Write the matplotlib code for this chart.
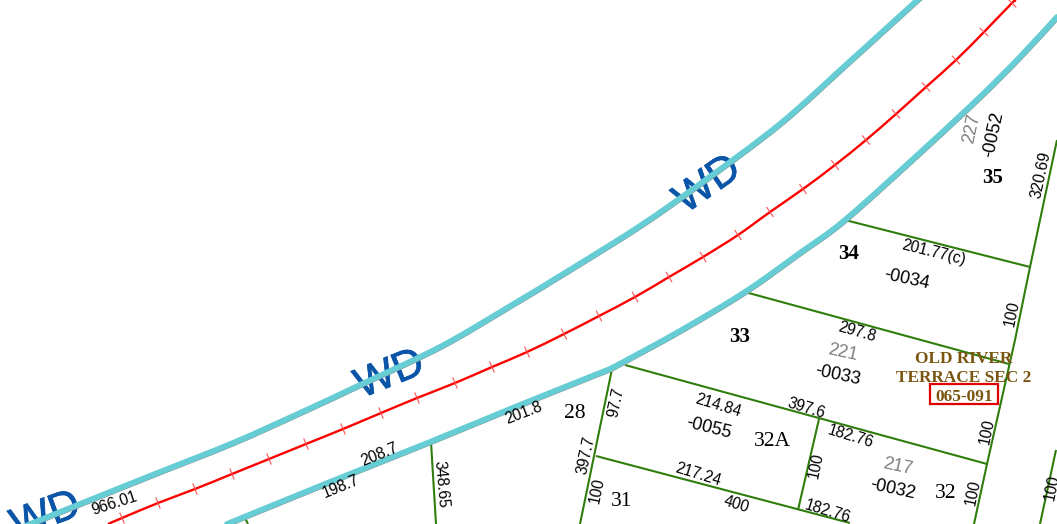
import numpy as np
import matplotlib
matplotlib.use("Agg")
import matplotlib.pyplot as plt
import matplotlib.patheffects as pe
from matplotlib.patches import Rectangle, PathPatch
from matplotlib.path import Path
from matplotlib.transforms import offset_copy

# canal polylines (map pixel coordinates)
canal_upper = [(18,529),(90,500),(160,472),(233,443),(300,413),(360,385),(440,347),(507,308),(573,268),(640,226),(700,184),(780,124),(847,64),(890,25),(923,-5)]
canal_lower_a = [(227,524),(330,482),(430,442),(520,405),(610,369)]
canal_lower_b = [(610,369),(627,360),(680,331),(745,292),(800,253),(845,220),(923,150),(980,97),(1020,57),(1057,17)]

# red line tick locations
red_ticks = [(122,518),(158,503),(195,489),(232,474),(269,459),(306,444),(343,429),(381,413),(417,398),(455,383),(492,367),(527,352),(564,334),(599,316),(635,297),(669,277),(703,257),(738,235),(770,212),(803,189),(835,165),(866,140),(896,114),(926,87),(956,60),(984,32),(1012,3)]
red_start = (108,524)
red_end = (1016,0)

# parcel boundaries
parcels = [
    [(431,442),(436,524)],
    [(245,518),(248,524)],
    [(612,369),(580,524)],
    [(625,365),(987,464)],
    [(596,456),(850,523)],
    [(819,419),(798,510)],
    [(1057,140),(1030,267),(1015,340),(987,464),(974,524)],
    [(845,220),(1030,267)],
    [(745,292),(1009,364)],
    [(1056,450),(1040,524)],
]

# dimension labels: text, x, y, rotation
dims = [
    ("966.01",114,503,18),("208.7",379,455,22),("198.7",341,487,22),("348.65",441,484,-85),
    ("201.8",524,413,21),("97.7",616,402,78),("397.7",586,455,78),("100",597,490,78),
    ("214.84",718,406,-17),("397.6",806,408,-17),("217.24",698,475,-17),("400",736,504,-17),
    ("182.76",851,437,-17),("182.76",828,512,-17),("100",816,465,78),("100",987,431,78),
    ("100",973,492,78),("100",1012,313,78),("320.69",1041,175,78),("297.8",857,332,-16),
    ("201.77(c)",934,253,-14),("100",1052,487,78),
]
parcel_ids = [("-0034",907,279,-12),("-0055",709,428,-14),("-0033",838,375,-12),("-0032",893,489,-12),("-0052",994,135,78)]
gray_ids = [("221",843,353,-12),("217",898,467,-12),("227",972,128,78)]
lots_bold = [("35",993,178),("34",849,254),("33",740,337)]
lots = [("28",575,413),("31",622,501),("32A",772,441),("32",946,493)]
wd_labels = [(46,516,20),(390,375,22),(708,185,35)]
sub_labels = [("OLD RIVER",964,359),("TERRACE SEC 2",964,378),("065-091",964,397)]
red_box = (930,384,68,20)

CANAL = "#66CDD5"; GREEN = "#2F7D0C"; RED = "#FF0000"; BLUE = "#0B55A8"; BROWN = "#7A5510"
SANS = "Liberation Sans"; SERIF = "Liberation Serif"

def bezier_path(points):
    """Path of cubic Bezier segments running through the read points."""
    p = np.array(points,dtype=float)
    ext = np.vstack([p[0],p,p[-1]])
    verts = [p[0]]; codes = [Path.MOVETO]
    for i in range(1,len(ext)-2):
        verts += [ext[i]+(ext[i+1]-ext[i-1])/6, ext[i+1]-(ext[i+2]-ext[i])/6, ext[i+1]]
        codes += [Path.CURVE4]*3
    return Path(verts,codes)

fig = plt.figure(figsize=(10.57,5.24), dpi=100)
ax = fig.add_axes([0,0,1,1])
ax.set_xlim(0,1057); ax.set_ylim(524,0); ax.axis("off")

for x,y,r in wd_labels:
    t = ax.text(x,y,"WD",color=BLUE,fontsize=30.5,family=SANS,rotation=r,rotation_mode="anchor",ha="center",va="center",zorder=1)
    t.set_path_effects([pe.withStroke(linewidth=0.5,foreground=BLUE)])

shadow = offset_copy(ax.transData,fig=fig,x=0.3,y=-0.4,units="points")
for line in (canal_upper,canal_lower_a,canal_lower_b):
    ax.add_patch(PathPatch(bezier_path(line),fill=False,edgecolor="#8a8a8a",lw=3.8,capstyle="round",transform=shadow,zorder=3))
for line in (canal_upper,canal_lower_a,canal_lower_b):
    ax.add_patch(PathPatch(bezier_path(line),fill=False,edgecolor=CANAL,lw=4.2,joinstyle="round",capstyle="round",zorder=3.1))

for line in parcels:
    xs,ys = zip(*line)
    ax.plot(xs,ys,color=GREEN,lw=1.5,solid_capstyle="butt",zorder=2)

pts = np.array([red_start]+red_ticks+[red_end],dtype=float)
ax.add_patch(PathPatch(bezier_path(pts),fill=False,edgecolor=RED,lw=1.7,zorder=4))
for i in range(1,len(pts)-1):
    t = pts[i+1]-pts[i-1]; t /= np.hypot(*t)
    n = np.array([-t[1],t[0]])*5.5
    ax.plot([pts[i,0]-n[0],pts[i,0]+n[0]],[pts[i,1]-n[1],pts[i,1]+n[1]],color="#FF5050",lw=0.8,zorder=4)

for s,x,y,r in dims:
    ax.text(x,y,s,fontsize=11.2,family=SANS,color="black",rotation=r,rotation_mode="anchor",ha="center",va="center",zorder=5)
for s,x,y,r in parcel_ids:
    ax.text(x,y,s,fontsize=13,family=SANS,color="black",rotation=r,rotation_mode="anchor",ha="center",va="center",zorder=5)
for s,x,y,r in gray_ids:
    ax.text(x,y,s,fontsize=13,family=SANS,color="#7f7f7f",rotation=r,rotation_mode="anchor",ha="center",va="center",zorder=5)
for s,x,y in lots_bold:
    ax.text(x,y,s,fontsize=15,family=SERIF,weight="bold",color="black",ha="center",va="center",zorder=5)
for s,x,y in lots:
    ax.text(x,y,s,fontsize=15.5,family=SERIF,color="black",ha="center",va="center",zorder=5)
for s,x,y in sub_labels:
    ax.text(x,y,s,fontsize=12.4,family=SERIF,weight="bold",color=BROWN,ha="center",va="center",zorder=5)
ax.add_patch(Rectangle(red_box[:2],red_box[2],red_box[3],fill=False,edgecolor="#E00000",lw=1.6,zorder=6))

fig.savefig("out.png",dpi=100,facecolor="white")
